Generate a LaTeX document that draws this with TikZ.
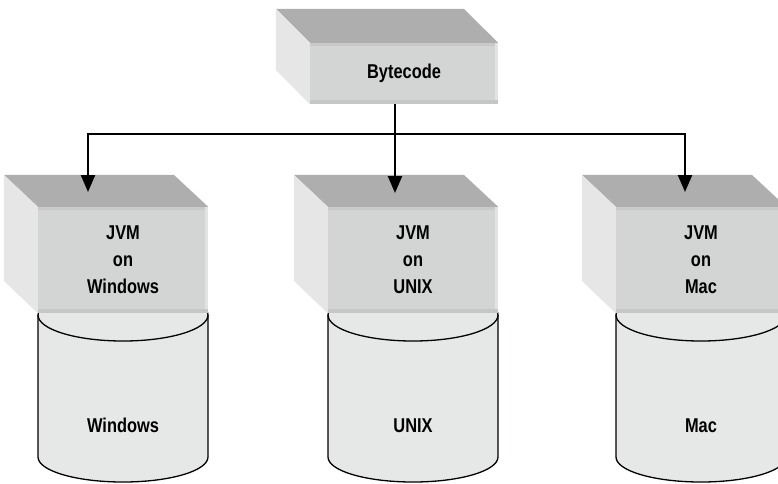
\documentclass[tikz,border=0pt]{standalone}
\usepackage{fontspec}
\setmainfont{Liberation Sans}[FakeStretch=0.82]
\usetikzlibrary{arrows.meta,backgrounds}
\definecolor{topg}{HTML}{AEAEAE}
\definecolor{frontg}{HTML}{D3D4D4}
\definecolor{sideg}{HTML}{E6E6E6}
\definecolor{cylg}{HTML}{E6E7E7}
\definecolor{striptop}{HTML}{C9C9C9}
\definecolor{stripright}{HTML}{E3E3E3}
\definecolor{stripbot}{HTML}{C5C6C6}
\tikzset{
  lbl/.style={font=\fontsize{20}{27}\selectfont\bfseries, text=black},
  frontface/.style={fill=frontg, inner sep=0pt, align=center, lbl},
  conn/.style={line width=2.4pt, black},
  arr/.style={conn, -{Triangle[length=17pt,width=14pt]}},
  cyl/.style={fill=cylg},
  cylline/.style={line width=1.3pt, black},
}
\begin{document}
\begin{tikzpicture}[x=1pt,y=-1pt]
\useasboundingbox (0,0) rectangle (778,483);
\clip (0,0) rectangle (778,483);

% Bytecode box
\node[frontface, minimum width=188pt, minimum height=61pt] (byte) at (404,73.5) {Bytecode};
\fill[topg] (byte.north west) -- ++(-34,-34) -- ++(188,0) -- (byte.north east) -- cycle;
\fill[sideg] (byte.north west) -- ++(-34,-34) -- ++(0,61) -- (byte.south west) -- cycle;
\fill[striptop] (byte.north west) rectangle ++(188,3);
\fill[stripright] (byte.north east) rectangle ++(-3,61);
\fill[stripbot] (byte.south west) rectangle ++(188,-4);

% JVM boxes with cylinders
\foreach \nm/\cx/\lab in {w/123/Windows, u/413/UNIX, m/701/Mac} {
  \node[frontface, minimum width=170pt, minimum height=106pt] (j\nm) at (\cx,260) {JVM\\on\\\lab};
  \fill[topg] (j\nm.north west) -- ++(-34,-32) -- ++(170,0) -- (j\nm.north east) -- cycle;
  \fill[sideg] (j\nm.north west) -- ++(-34,-32) -- ++(0,106) -- (j\nm.south west) -- cycle;
  \fill[striptop] (j\nm.north west) rectangle ++(170,3);
  \fill[stripright] (j\nm.north east) rectangle ++(-3,106);
  \fill[stripbot] (j\nm.south west) rectangle ++(170,-4);
  \begin{scope}[on background layer]
    \fill[cyl] (\cx-85,315) -- (\cx-85,457)
      arc[start angle=180, end angle=0, x radius=85, y radius=25]
      -- (\cx+85,315)
      arc[start angle=0, end angle=-180, x radius=85, y radius=26] -- cycle;
    \draw[cylline] (\cx-85,315) -- (\cx-85,457)
      arc[start angle=180, end angle=0, x radius=85, y radius=25]
      -- (\cx+85,315);
    \draw[cylline] (\cx,315) ellipse[x radius=85, y radius=26];
  \end{scope}
  \node[lbl, anchor=base] (c\nm) at (\cx,432) {\lab};
}

% connectors
\coordinate (j) at (395,134);
\coordinate (aw) at (88,192);
\coordinate (au) at (395,193);
\coordinate (am) at (685,192);
\draw[arr] (byte.south -| j) -- (au);
\draw[arr] (j) -| (aw);
\draw[arr] (j) -| (am);
\end{tikzpicture}
\end{document}
